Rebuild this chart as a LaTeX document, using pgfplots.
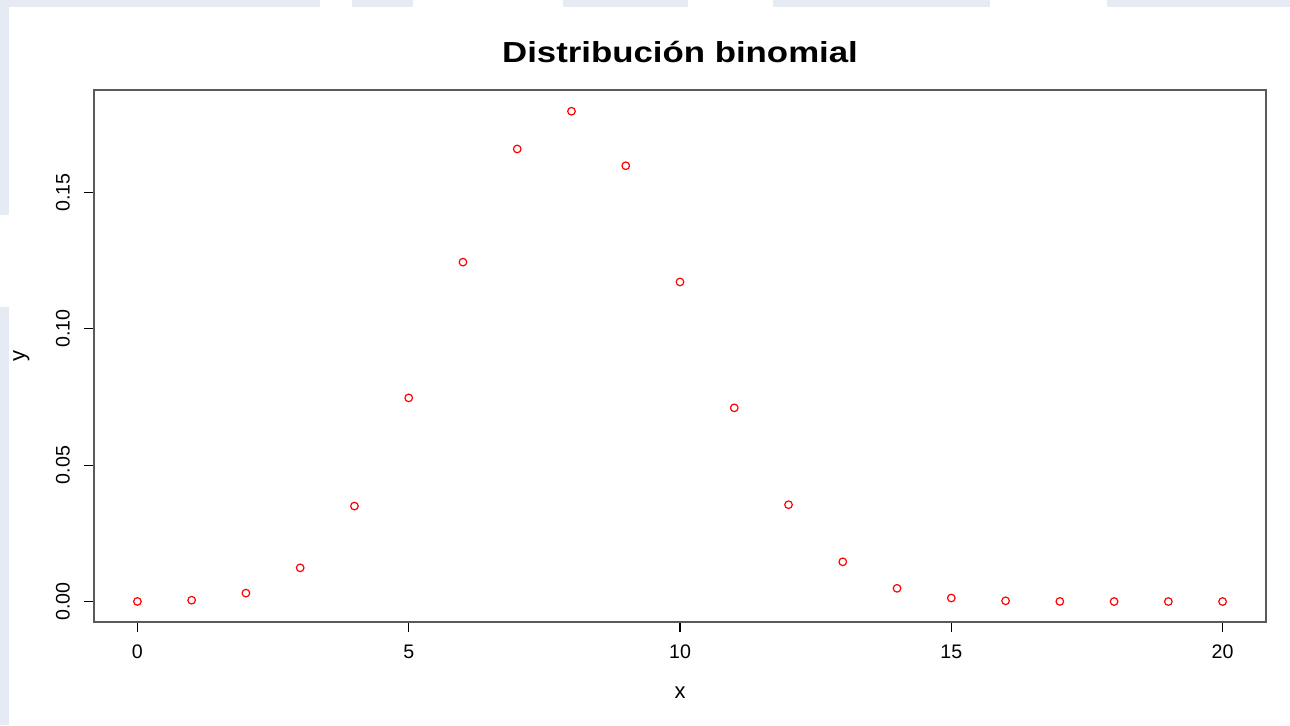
\documentclass[border=0pt]{standalone}
\usepackage{pgfplots}
\pgfplotsset{compat=1.18}
\usepackage{fontspec}
\setmainfont{Liberation Sans}
\definecolor{strip}{HTML}{E6EBF3}
\definecolor{frame}{HTML}{5A5A5A}
\begin{document}
\begin{tikzpicture}
  % page background and light border bands
  \fill[white] (0pt,0pt) rectangle (645pt,362.5pt);
  \fill[strip] (0pt,359pt) rectangle (160pt,362.5pt);
  \fill[strip] (176pt,359pt) rectangle (206.5pt,362.5pt);
  \fill[strip] (281.5pt,359pt) rectangle (344pt,362.5pt);
  \fill[strip] (386.5pt,359pt) rectangle (495pt,362.5pt);
  \fill[strip] (553.5pt,359pt) rectangle (645pt,362.5pt);
  \fill[strip] (0pt,255pt) rectangle (4.5pt,362.5pt);
  \fill[strip] (0pt,0pt) rectangle (4.5pt,209pt);
  \begin{axis}[
    at={(47pt,51.5pt)}, anchor=south west,
    scale only axis, width=586pt, height=266pt,
    xmin=-0.8, xmax=20.8, ymin=-0.0075, ymax=0.1875,
    clip=false,
    axis line style={draw=frame, line width=1pt},
    tick align=outside, xtick pos=bottom, ytick pos=left,
    major tick length=5pt,
    tick style={black, line width=0.6pt},
    xtick={0,5,10,15,20}, xticklabels={0,5,10,15,20},
    ytick={0,0.05,0.10,0.15}, yticklabels={0.00,0.05,0.10,0.15},
    ticklabel style={font=\fontsize{9.8}{11}\selectfont},
    xticklabel shift=3pt,
    yticklabel style={rotate=90, anchor=south},
    yticklabel shift=3.5pt,
    /pgf/number format/assume math mode=true,
  ]
    \addplot[only marks, mark=o, mark size=1.9pt, color=red,
      mark options={line width=0.6pt}] coordinates {
      (0,0.0000366) (1,0.000487) (2,0.003087) (3,0.012350) (4,0.034991)
      (5,0.074647) (6,0.124412) (7,0.165882) (8,0.179706) (9,0.159738)
      (10,0.117142) (11,0.070995) (12,0.035497) (13,0.014563) (14,0.004854)
      (15,0.001294) (16,0.000270) (17,0.0000423) (18,0.0000047)
      (19,0.00000033) (20,0.00000001)
    };
    \node[font=\bfseries\fontsize{14.5}{16}\selectfont, anchor=base]
      at (rel axis cs:0.5,1) [yshift=13.5pt]
      {\scalebox{1.2}[1]{Distribución binomial}};
    \node[font=\fontsize{11}{12}\selectfont, anchor=base]
      at (rel axis cs:0.5,0) [yshift=-38pt] {x};
    \node[font=\fontsize{11}{12}\selectfont, anchor=base, rotate=90]
      at (rel axis cs:0,0.5) [yshift=34.5pt] {y};
  \end{axis}
\end{tikzpicture}
\end{document}
